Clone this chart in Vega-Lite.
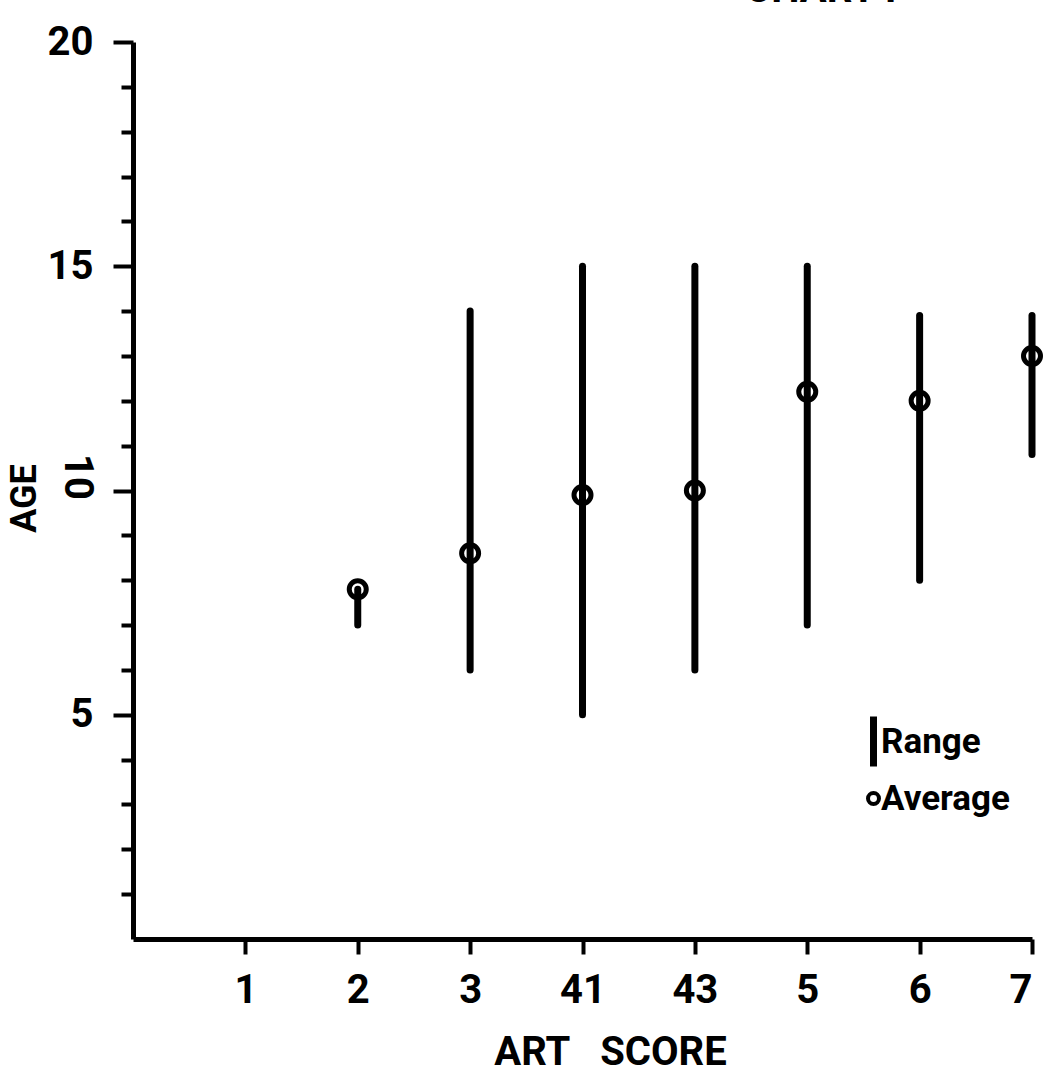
{
  "$schema": "https://vega.github.io/schema/vega-lite/v6.json",
  "autosize": "none",
  "width": 899,
  "height": 897,
  "padding": {"left": 133, "top": 42, "right": 14, "bottom": 147},
  "background": "white",
  "title": {"text": "CHART I", "anchor": "start", "dx": 739, "offset": 12, "font": "Roboto", "fontSize": 40, "fontWeight": "bold", "color": "black"},
  "config": {
    "view": {"stroke": null},
    "font": "Roboto",
    "axis": {"grid": false, "domainColor": "black", "domainWidth": 5, "tickColor": "black", "tickWidth": 4, "labelColor": "black", "labelFont": "Roboto", "labelFontWeight": "bold", "labelFontSize": 40, "titleColor": "black", "titleFont": "Roboto", "titleFontWeight": "bold"}
  },
  "datasets": {
    "scores": [
      {"score": "2", "pos": 2, "min": 7, "max": 7.8, "avg": 7.8},
      {"score": "3", "pos": 3, "min": 6, "max": 14, "avg": 8.6},
      {"score": "41", "pos": 4, "min": 5, "max": 15, "avg": 9.9},
      {"score": "43", "pos": 5, "min": 6, "max": 15, "avg": 10.0},
      {"score": "5", "pos": 6, "min": 7, "max": 15, "avg": 12.2},
      {"score": "6", "pos": 7, "min": 8, "max": 13.9, "avg": 12.0},
      {"score": "7", "pos": 8, "min": 10.8, "max": 13.9, "avg": 13.0}
    ],
    "ylabel": [
      {"pos": -0.5, "age": 10.3, "label": "10"}
    ]
  },
  "layer": [
    {
      "data": {"name": "scores"},
      "mark": {"type": "rule", "strokeWidth": 7, "strokeCap": "round"},
      "encoding": {
        "x": {"field": "pos", "type": "quantitative", "scale": {"domain": [0, 8], "nice": false},
          "axis": {"values": [1, 2, 3, 4, 5, 6, 7, 8], "labelExpr": "['','1','2','3','41','43','5','6','7'][datum.value]", "tickSize": 15, "labelPadding": 16, "title": "ART\u00a0\u00a0\u00a0SCORE", "titleFontSize": 40, "titleX": 477, "titleY": 93, "titleBaseline": "top"}},
        "y": {"field": "min", "type": "quantitative", "scale": {"domain": [0, 20], "nice": false},
          "axis": {"values": [1, 2, 3, 4, 5, 6, 7, 8, 9, 10, 11, 12, 13, 14, 15, 16, 17, 18, 19, 20], "labelExpr": "(datum.value % 5 === 0 && datum.value !== 10) ? datum.label : ''", "tickSize": {"condition": {"test": "datum.value % 5 === 0", "value": 20}, "value": 12}, "labelPadding": 20, "title": "AGE", "titleFontSize": 36, "titleX": -90, "titleY": 456, "titleAngle": -90, "titleAlign": "center", "titleBaseline": "bottom"}},
        "y2": {"field": "max"},
        "color": {"datum": "Range", "scale": {"domain": ["Range", "Average"], "range": ["black", "black"]},
          "legend": {"title": null, "orient": "none", "legendX": 723, "legendY": 682, "padding": 0, "symbolOffset": 0, "rowPadding": -3, "labelOffset": -10, "labelFont": "Roboto", "labelFontSize": 35, "labelFontWeight": "bold", "labelColor": "black",
            "encode": {"symbols": {"update": {
              "shape": {"signal": "datum.value === 'Range' ? 'M0,-1L0,1' : 'circle'"},
              "size": {"signal": "datum.value === 'Range' ? 2500 : 120"},
              "strokeWidth": {"signal": "datum.value === 'Range' ? 7 : 4"},
              "stroke": {"value": "black"},
              "fill": {"value": "transparent"},
              "opacity": {"value": 1}
            }}}}}
      }
    },
    {
      "data": {"name": "scores"},
      "mark": {"type": "point", "shape": "circle", "filled": false, "size": 289, "strokeWidth": 5, "opacity": 1},
      "encoding": {
        "x": {"field": "pos", "type": "quantitative"},
        "y": {"field": "avg", "type": "quantitative"},
        "color": {"datum": "Average"}
      }
    },
    {
      "data": {"name": "ylabel"},
      "mark": {"type": "text", "angle": 90, "font": "Roboto", "fontWeight": "bold", "fontSize": 40, "color": "black", "align": "center", "baseline": "middle"},
      "encoding": {
        "x": {"field": "pos", "type": "quantitative"},
        "y": {"field": "age", "type": "quantitative"},
        "text": {"field": "label"}
      }
    }
  ]
}
